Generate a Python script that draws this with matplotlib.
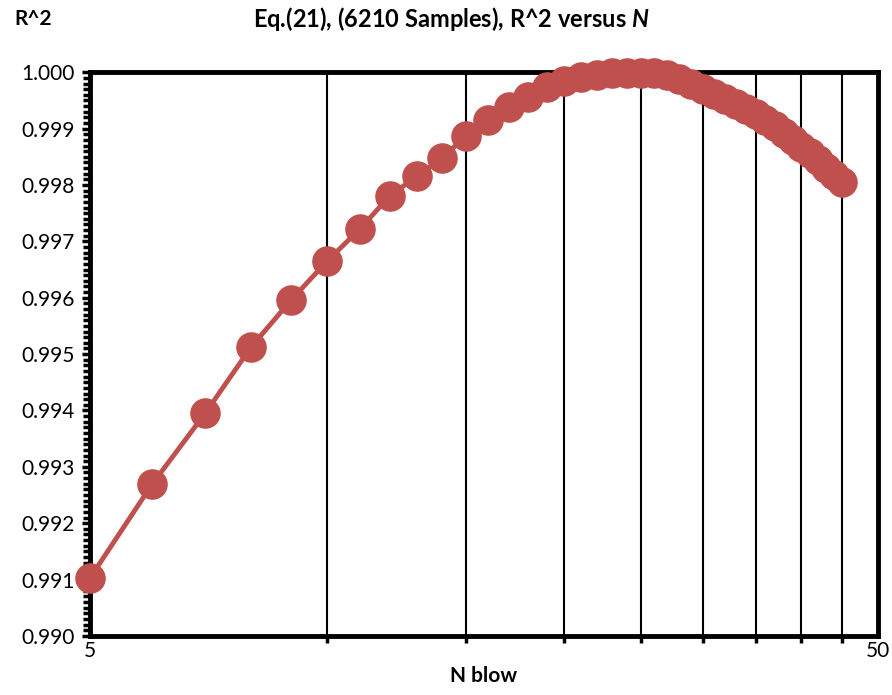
import matplotlib
matplotlib.use('Agg')
import matplotlib.pyplot as plt
from matplotlib.ticker import FixedLocator, MultipleLocator, NullFormatter, FixedFormatter

plt.rcParams['font.family'] = ['Lato', 'DejaVu Sans']
plt.rcParams['mathtext.fontset'] = 'custom'
plt.rcParams['mathtext.it'] = 'Lato:italic:bold'

# data
n_blow = list(range(5, 46))
r2 = [0.99103, 0.99270, 0.99395, 0.99512, 0.99596, 0.99665, 0.99722, 0.99780,
      0.99816, 0.99848, 0.99887, 0.99915, 0.99938, 0.99956, 0.99973, 0.99984,
      0.99991, 0.99996, 0.99998, 0.99999, 0.99999, 0.99998, 0.99995, 0.99988,
      0.99980, 0.99971, 0.99962, 0.99953, 0.99944, 0.99935, 0.99926, 0.99915,
      0.99904, 0.99892, 0.99880, 0.99868, 0.99856, 0.99844, 0.99831, 0.99818,
      0.99806]
grid_x = [10, 15, 20, 25, 30, 35, 40, 45]
xtick_labels = ['5', '50']

fig = plt.figure(figsize=(8.92, 6.95), dpi=100)
ax = fig.add_axes([0.101, 0.085, 0.883, 0.811])

ax.plot(n_blow, r2, color='#C0504D', lw=3.5, marker='o', ms=21,
        markeredgecolor='#C0504D', zorder=3, clip_on=False)

ax.set_xscale('log')
ax.set_xlim(5, 50)
ax.set_ylim(0.990, 1.000)

# x ticks: only 5 and 50 labelled, gridlines at 10..45
ax.xaxis.set_major_locator(FixedLocator([5, 50]))
ax.xaxis.set_major_formatter(FixedFormatter(xtick_labels))
ax.xaxis.set_minor_locator(FixedLocator(grid_x))
ax.xaxis.set_minor_formatter(NullFormatter())
for x in grid_x:
    ax.axvline(x, color='black', lw=1.5, zorder=1)

ax.yaxis.set_major_locator(MultipleLocator(0.001))
ax.yaxis.set_minor_locator(MultipleLocator(0.0001))
ax.yaxis.set_major_formatter(matplotlib.ticker.FormatStrFormatter('%.3f'))

ax.tick_params(axis='x', which='major', length=0, pad=4, labelsize=15)
ax.tick_params(axis='x', which='minor', length=5, width=2.5, direction='out')
ax.tick_params(axis='y', which='major', length=6, width=2.5, direction='out', labelsize=15, pad=5)
ax.tick_params(axis='y', which='minor', length=5, width=2.5, direction='out')

for s in ax.spines.values():
    s.set_linewidth(3.5)
    s.set_color('black')

ax.set_xlabel('N blow', fontsize=15, fontweight='bold', labelpad=3)
fig.text(0.016, 0.972, 'R^2', fontsize=15, fontweight='bold', ha='left', va='center')
fig.text(0.506, 0.972, r'Eq.(21), (6210 Samples), R^2 versus $\mathit{N}$', fontsize=17,
         fontweight='bold', ha='center', va='center')

fig.savefig('out.png', dpi=100)
